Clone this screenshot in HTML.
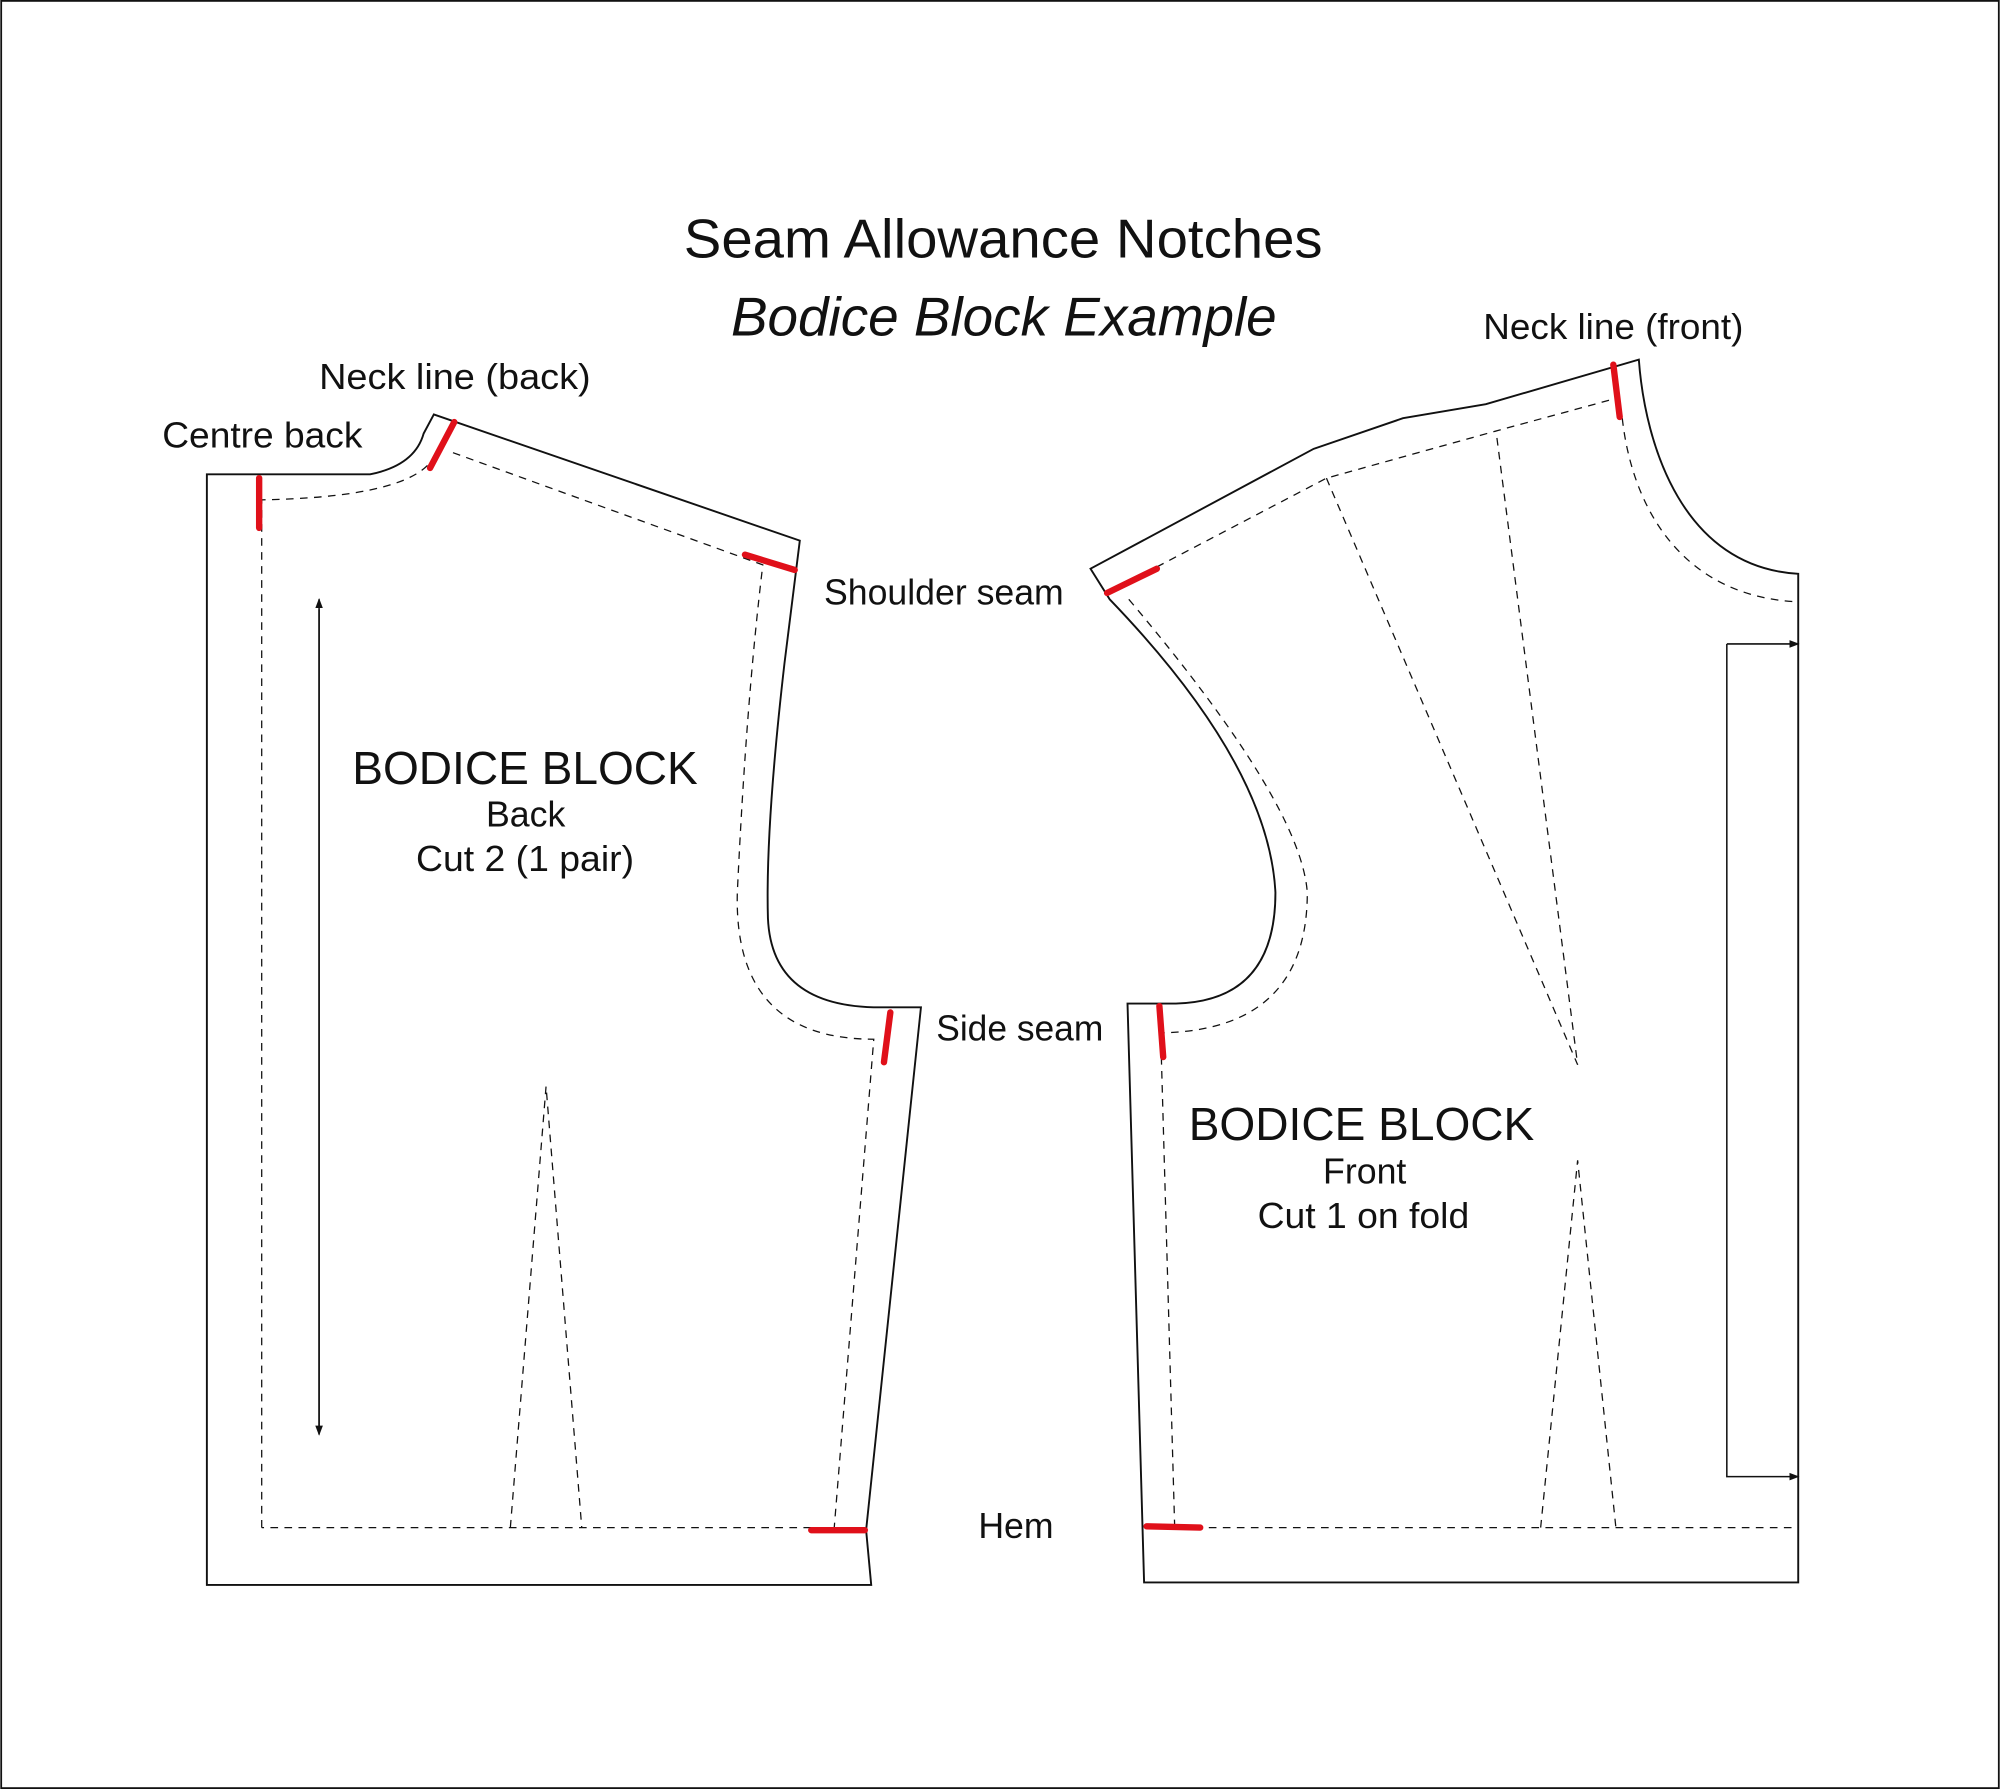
<!DOCTYPE html>
<html><head><meta charset="utf-8"><style>
html,body{margin:0;padding:0;background:#fff}
svg{display:block}
text{font-family:"Liberation Sans",sans-serif;fill:#111}
</style></head><body>
<svg width="2000" height="1789" viewBox="0 0 1568 1403" xmlns="http://www.w3.org/2000/svg">
<defs>
<marker id="ah" markerWidth="8" markerHeight="8" refX="7" refY="4" orient="auto" markerUnits="userSpaceOnUse"><path d="M0,1 L8,4 L0,7 Z" fill="#111"/></marker>
</defs>
<rect x="0.7" y="0.7" width="1566.6" height="1401.6" fill="none" stroke="#111" stroke-width="1.4"/>
<g fill="none" stroke="#111" stroke-width="1.5">
<path d="M162,372 L290,372 Q325,365 332,340 L340,325 L627,424 L615,520 Q600,650 602,720 Q605,790 690,790 L722,790 L679,1200 L683,1243 L162,1243 Z"/>
<path d="M855,446 L1030,352 L1100,328 L1165,317 L1285,282 C1290,350 1320,445 1410,450 L1410,1241 L897,1241 L884,787 L922,787 Q1000,785 1000,700 Q995,600 870,470 Z"/>
</g>
<g fill="none" stroke="#111" stroke-width="1" stroke-dasharray="6,5">
<path d="M205,1198 L205,392 Q310,390 335,365"/>
<path d="M355,355 L598,443 Q585,550 578,700 Q575,815 685,815 L654,1198 L205,1198"/>
<path d="M400,1198 L428,852 L456,1198"/>
<path d="M868,465 L1040,375 L1173,338 L1265,313"/>
<path d="M1272,328 C1280,400 1320,468 1410,472"/>
<path d="M885,470 Q1020,630 1025,700 Q1025,808 910,810 L921,1198 L1410,1198"/>
<path d="M1040,375 L1237,835 L1173,338"/>
<path d="M1208,1198 L1237,910 L1267,1198"/>
</g>
<g fill="none" stroke="#111" stroke-width="1.2">
<line x1="250" y1="478" x2="250" y2="1125" marker-end="url(#ah)"/>
<line x1="250" y1="1120" x2="250" y2="470" marker-end="url(#ah)"/>
<path d="M1354,505 L1354,1158 L1410,1158" marker-end="url(#ah)"/>
<path d="M1354,505 L1410,505" marker-end="url(#ah)"/>
</g>
<g stroke="#e0101a" stroke-width="5" stroke-linecap="round">
<line x1="203" y1="375" x2="203" y2="414"/>
<line x1="356" y1="331" x2="337" y2="367"/>
<line x1="584" y1="435" x2="623" y2="447"/>
<line x1="698" y1="794" x2="693" y2="833"/>
<line x1="636" y1="1200" x2="678" y2="1200"/>
<line x1="868" y1="465" x2="907" y2="446"/>
<line x1="1265" y1="286" x2="1270" y2="327"/>
<line x1="909" y1="789" x2="912" y2="829"/>
<line x1="899" y1="1197" x2="941" y2="1198"/>
</g>
<text x="536" y="202" font-size="43" textLength="501" lengthAdjust="spacingAndGlyphs" font-weight="300">Seam Allowance Notches</text>
<text x="573" y="263" font-size="43" font-style="italic" textLength="428" lengthAdjust="spacingAndGlyphs">Bodice Block Example</text>
<g font-size="28">
<text x="250" y="305" textLength="213" lengthAdjust="spacingAndGlyphs">Neck line (back)</text>
<text x="127" y="351" textLength="157" lengthAdjust="spacingAndGlyphs">Centre back</text>
<text x="646" y="474" textLength="188" lengthAdjust="spacingAndGlyphs">Shoulder seam</text>
<text x="734" y="816" textLength="131" lengthAdjust="spacingAndGlyphs">Side seam</text>
<text x="767" y="1206" textLength="59" lengthAdjust="spacingAndGlyphs">Hem</text>
<text x="1163" y="266" textLength="204" lengthAdjust="spacingAndGlyphs">Neck line (front)</text>
</g>
<text x="276" y="615" font-size="36" textLength="271" lengthAdjust="spacingAndGlyphs">BODICE BLOCK</text>
<text x="412" y="648" font-size="28" text-anchor="middle">Back</text>
<text x="326" y="683" font-size="28" textLength="171" lengthAdjust="spacingAndGlyphs">Cut 2 (1 pair)</text>
<text x="932" y="894" font-size="36" textLength="271" lengthAdjust="spacingAndGlyphs">BODICE BLOCK</text>
<text x="1070" y="928" font-size="28" text-anchor="middle">Front</text>
<text x="986" y="963" font-size="28" textLength="166" lengthAdjust="spacingAndGlyphs">Cut 1 on fold</text>
</svg>
</body></html>
